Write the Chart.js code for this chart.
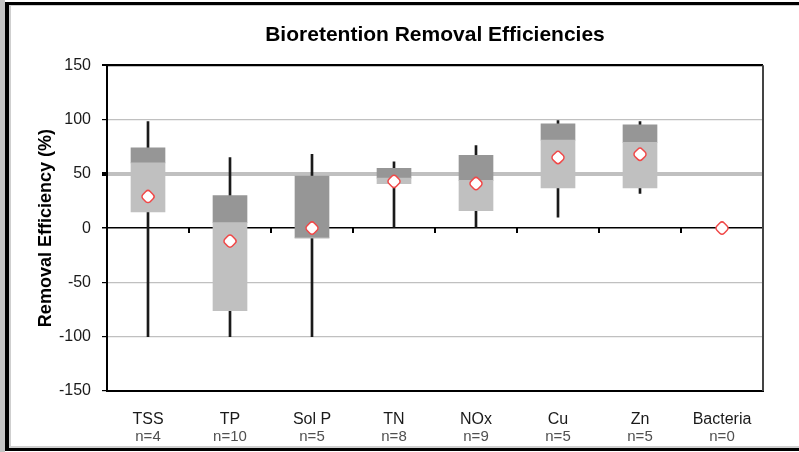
<!DOCTYPE html>
<html>
<head>
<meta charset="utf-8">
<script src="https://cdn.jsdelivr.net/npm/chart.js@4/dist/chart.umd.min.js"></script>
<style>
  html, body { margin: 0; padding: 0; background: #fff; }
  canvas { display: block; }
</style>
</head>
<body>
<canvas id="boxChart" width="799" height="452"></canvas>
<script>
// Chart data
const categories = ['TSS', 'TP', 'Sol P', 'TN', 'NOx', 'Cu', 'Zn', 'Bacteria'];
const counts = ['n=4', 'n=10', 'n=5', 'n=8', 'n=9', 'n=5', 'n=5', 'n=0'];
const minValues = [-100, -100, -100, 0, 0, 10, 32, null];
const q1Values = [15, -76, -9, 41, 16, 37, 37, null];
const medianValues = [60, 5, -9, 46, 44, 81, 79, null];
const q3Values = [74, 30, 48, 55, 67, 96, 95, null];
const maxValues = [98, 65, 68, 61, 76, 99, 98, null];
const meanValues = [29, -12, 0, 43, 41, 65, 68, 0];
const yTicks = [-150, -100, -50, 0, 50, 100, 150];

const FONT = '"Liberation Sans", Arial, sans-serif';

function pairs(lo, hi) {
    return lo.map((v, i) => (v === null || hi[i] === null) ? null : [v, hi[i]]);
}

// frame around the picture, plot border and the little ticks on the zero line
const framePlugin = {
    id: 'frame',
    beforeDraw(chart) {
        const c = chart.ctx;
        c.save();
        c.fillStyle = '#fff';
        c.fillRect(0, 0, chart.width, chart.height);
        c.fillStyle = '#c4c4c4';
        c.fillRect(0, 0, 5, chart.height);
        c.fillStyle = '#000';
        c.fillRect(5, 2, 4, 449);
        c.fillRect(5, 2, chart.width - 5, 3);
        c.fillRect(5, 448, chart.width - 5, 3);
        c.fillStyle = '#cfcfcf';
        c.fillRect(9, 5, 2, 443);
        c.fillRect(9, 5, chart.width - 9, 1);
        c.fillRect(9, 446, chart.width - 9, 2);
        c.restore();
    },
    afterDraw(chart) {
        const a = chart.chartArea;
        const c = chart.ctx;
        const x = chart.scales.x;
        const y0 = chart.scales.y.getPixelForValue(0);
        c.save();
        c.strokeStyle = '#000';
        c.lineWidth = 2;
        for (let i = 1; i < categories.length; i++) {
            const px = Math.round((x.getPixelForValue(i - 1) + x.getPixelForValue(i)) / 2);
            c.beginPath();
            c.moveTo(px, y0);
            c.lineTo(px, y0 + 5);
            c.stroke();
        }
        c.beginPath();
        c.moveTo(a.left, a.top);
        c.lineTo(a.right, a.top);
        c.stroke();
        c.strokeStyle = '#444';
        c.beginPath();
        c.moveTo(a.right, a.top);
        c.lineTo(a.right, a.bottom);
        c.stroke();
        c.restore();
    }
};

const ctx = document.getElementById('boxChart').getContext('2d');

new Chart(ctx, {
    type: 'bar',
    data: {
        labels: categories,
        datasets: [
            {
                label: 'Range',
                data: pairs(minValues, maxValues),
                backgroundColor: '#1a1a1a',
                barThickness: 2,
                order: 2
            },
            {
                label: 'Lower quartile',
                data: pairs(q1Values, medianValues),
                backgroundColor: '#c0c0c0',
                barThickness: 34,
                order: 1
            },
            {
                label: 'Upper quartile',
                data: pairs(medianValues, q3Values),
                backgroundColor: '#969696',
                barThickness: 34,
                order: 1
            },
            {
                type: 'line',
                label: 'Mean',
                data: meanValues,
                showLine: false,
                pointStyle: 'rectRounded',
                rotation: 45,
                pointRadius: 6,
                pointBackgroundColor: '#fff',
                pointBorderColor: '#f04848',
                pointBorderWidth: 1.5,
                order: 0
            }
        ]
    },
    options: {
        responsive: false,
        animation: false,
        layout: { padding: { left: 0, right: 36, top: 0, bottom: 0 } },
        plugins: {
            legend: { display: false },
            tooltip: { enabled: false },
            title: {
                display: true,
                text: 'Bioretention Removal Efficiencies',
                fullSize: false,
                color: '#000',
                font: { family: FONT, size: 21, weight: 'bold' },
                padding: { top: 23, bottom: 17 }
            }
        },
        scales: {
            x: {
                stacked: true,
                offset: true,
                grid: { display: false, drawTicks: false, tickLength: 0 },
                border: { display: true, color: '#000', width: 2 },
                ticks: {
                    color: '#1a1a1a',
                    padding: 19,
                    font: { family: FONT, size: 16 }
                },
                afterFit: s => { s.height = 37; }
            },
            x2: {
                type: 'category',
                labels: counts,
                position: 'bottom',
                offset: true,
                grid: { display: false, drawTicks: false, tickLength: 0 },
                border: { display: false },
                ticks: {
                    color: '#505050',
                    padding: 0,
                    font: { family: FONT, size: 15 }
                },
                afterFit: s => { s.height = 24; }
            },
            y: {
                stacked: false,
                min: -150,
                max: 150,
                afterBuildTicks: s => { s.ticks = yTicks.map(v => ({ value: v })); },
                border: { display: true, color: '#000', width: 2 },
                grid: {
                    color: c => (c.tick.value === 0 || c.tick.value === 150) ? '#000' : '#c0c0c0',
                    lineWidth: c => c.tick.value === 50 ? 4 : (c.tick.value === 0 ? 1.5 : (c.tick.value === 150 ? 2 : 1.2)),
                    tickColor: '#000',
                    tickLength: 5
                },
                ticks: {
                    color: '#1a1a1a',
                    padding: 11,
                    font: { family: FONT, size: 16 }
                },
                title: {
                    display: true,
                    text: 'Removal Efficiency (%)',
                    color: '#000',
                    font: { family: FONT, size: 18, weight: 'bold' },
                    padding: { top: 35, bottom: 0 }
                },
                afterFit: s => { s.width = 107; }
            }
        }
    },
    plugins: [framePlugin]
});
</script>
</body>
</html>
